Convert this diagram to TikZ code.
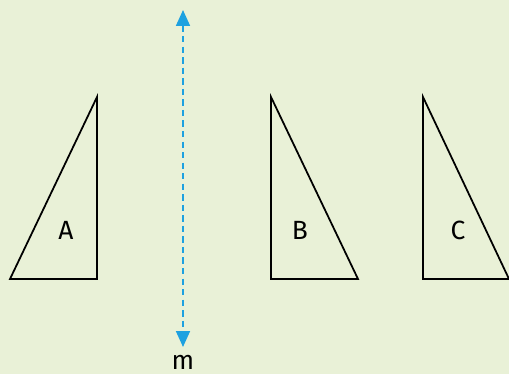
\documentclass[tikz,border=0pt]{standalone}
\usepackage{fontspec}
\setmainfont{Fira Sans}
\usepackage{xcolor}
\usepackage{tikz}
\usetikzlibrary{arrows.meta,positioning}
\definecolor{bgreen}{HTML}{E9F1D7}
\definecolor{mblue}{HTML}{1DA1E0}

\begin{document}
\begin{tikzpicture}[x=0.02cm,y=-0.02cm,
  tri/.style={draw,line width=1pt,line join=miter},
  lbl/.style={font=\fontsize{15}{17}\selectfont},
  axis/.style={{Triangle[length=3.2mm,width=2.8mm]}-{Triangle[length=3.2mm,width=2.8mm]},
    mblue,line width=1pt,dash pattern=on 3.6pt off 2.4pt}]
\fill[bgreen] (0,0) rectangle (509,374);
\useasboundingbox (0,0) rectangle (509,374);
% triangles
\draw[tri] (10,279) -- (97,279) -- (97,97) -- cycle;
\draw[tri] (271,97) -- (271,279) -- (358,279) -- cycle;
\draw[tri] (423,97) -- (423,279) -- (509,279) -- cycle;
\node[lbl] (A) at (66,230) {A};
\node[lbl] (B) at (300,230) {B};
\node[lbl] (C) at (458,230) {C};
% mirror line
\coordinate (top) at (183,10);
\coordinate (bot) at (183,347);
\draw[axis] (top) -- (bot);
\node[lbl] (m) at (183,362) {m};
\end{tikzpicture}
\end{document}
